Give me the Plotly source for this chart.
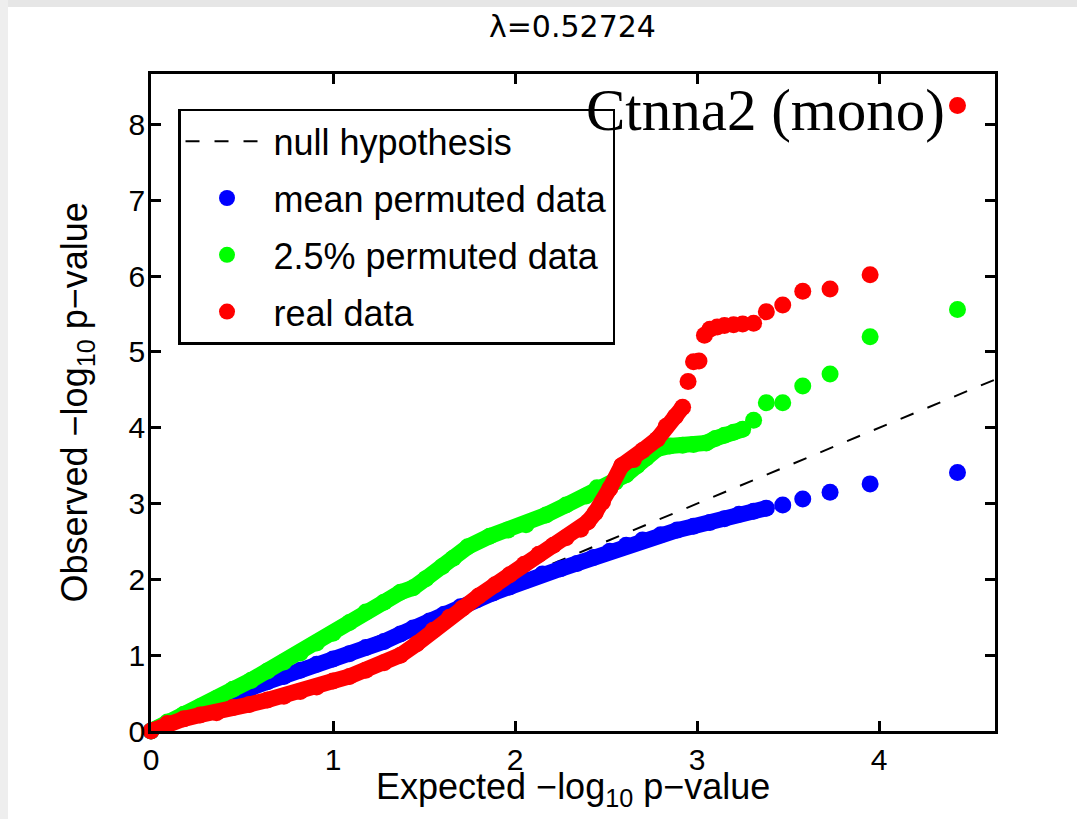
import plotly.graph_objects as go

# ---------------- data ----------------
x_ticks = [0, 1, 2, 3, 4]
y_ticks = [0, 1, 2, 3, 4, 5, 6, 7, 8]

null_x = [0.0, 4.7]
null_y = [0.0, 4.7]

# dense part of each QQ curve (centre line of the band of points)
blue_band_x = [0.00, 0.09, 0.18, 0.27, 0.36, 0.45, 0.55, 0.64, 0.73, 0.82, 0.91, 1.00,
               1.09, 1.18, 1.28, 1.37, 1.44, 1.53, 1.61, 1.70, 1.79, 1.88, 1.97, 2.06,
               2.15, 2.25, 2.34, 2.43, 2.52, 2.61, 2.70, 2.80, 2.89, 2.98, 3.07, 3.15,
               3.23, 3.31, 3.38]
blue_band_y = [0.00, 0.10, 0.20, 0.30, 0.39, 0.47, 0.57, 0.65, 0.72, 0.80, 0.88, 0.95,
               1.02, 1.10, 1.18, 1.28, 1.36, 1.45, 1.54, 1.64, 1.73, 1.82, 1.90, 1.99,
               2.07, 2.14, 2.21, 2.29, 2.37, 2.45, 2.52, 2.59, 2.65, 2.70, 2.75, 2.80,
               2.86, 2.90, 2.94]
blue_tail_x = [3.47, 3.58, 3.73, 3.95, 4.43]
blue_tail_y = [2.98, 3.06, 3.15, 3.26, 3.41]

green_band_x = [0.00, 0.09, 0.18, 0.27, 0.36, 0.45, 0.55, 0.64, 0.73, 0.82, 0.91, 1.00,
                1.09, 1.18, 1.28, 1.37, 1.44, 1.51, 1.60, 1.66, 1.74, 1.86, 1.96, 2.06,
                2.17, 2.28, 2.39, 2.45, 2.55, 2.61, 2.67, 2.72, 2.78, 2.85, 2.92, 2.98,
                3.05, 3.10, 3.15, 3.20, 3.25]
green_band_y = [0.00, 0.12, 0.22, 0.32, 0.43, 0.55, 0.67, 0.79, 0.91, 1.03, 1.16, 1.29,
                1.43, 1.57, 1.70, 1.83, 1.89, 2.01, 2.17, 2.28, 2.43, 2.57, 2.65, 2.72,
                2.85, 2.98, 3.10, 3.21, 3.28, 3.38, 3.50, 3.60, 3.72, 3.76, 3.77, 3.78,
                3.80, 3.86, 3.90, 3.94, 3.98]
green_tail_x = [3.31, 3.38, 3.47, 3.58, 3.73, 3.95, 4.43]
green_tail_y = [4.10, 4.33, 4.33, 4.55, 4.71, 5.20, 5.56]

red_band_x = [0.00, 0.09, 0.18, 0.27, 0.36, 0.45, 0.54, 0.64, 0.73, 0.82, 0.91, 1.00,
              1.09, 1.18, 1.28, 1.37, 1.46, 1.55, 1.64, 1.71, 1.80, 1.89, 1.97, 2.05,
              2.13, 2.21, 2.28, 2.36, 2.40, 2.44, 2.48, 2.52, 2.585, 2.65, 2.70, 2.78,
              2.83, 2.88, 2.92]
red_band_y = [0.00, 0.10, 0.16, 0.21, 0.24, 0.31, 0.35, 0.41, 0.46, 0.52, 0.58, 0.66,
              0.72, 0.80, 0.90, 1.00, 1.15, 1.33, 1.50, 1.62, 1.78, 1.93, 2.06, 2.20,
              2.33, 2.45, 2.55, 2.66, 2.76, 2.88, 3.02, 3.20, 3.50, 3.58, 3.70, 3.85,
              4.02, 4.15, 4.27]
red_tail_x = [2.95, 2.98, 3.01, 3.04, 3.07, 3.11, 3.15, 3.20, 3.25, 3.31, 3.38, 3.47,
              3.58, 3.73, 3.95, 4.43]
red_tail_y = [4.61, 4.87, 4.88, 5.22, 5.30, 5.33, 5.35, 5.36, 5.37, 5.38, 5.53, 5.62,
              5.80, 5.83, 6.02, 8.25]

series_names = ["mean permuted data", "2.5% permuted data", "real data"]
series_colors = ["#0000ff", "#00ff00", "#ff0000"]

gene_label = "Ctnna2 (mono)"
title_text = "λ=0.52724"

# ---------------- figure ----------------
SANS = "Liberation Sans, Arial, sans-serif"
fig = go.Figure()

fig.add_trace(go.Scatter(
    x=null_x, y=null_y, mode="lines", name="null hypothesis", legendgroup="g0",
    line=dict(color="black", width=2, dash="14px,15px"), hoverinfo="skip"))

bands = [(blue_band_x, blue_band_y, blue_tail_x, blue_tail_y),
         (green_band_x, green_band_y, green_tail_x, green_tail_y),
         (red_band_x, red_band_y, red_tail_x, red_tail_y)]

for i, ((bx, by, tx, ty), name, col) in enumerate(zip(bands, series_names, series_colors)):
    grp = "g%d" % (i + 1)
    fig.add_trace(go.Scatter(
        x=bx, y=by, mode="lines+markers", showlegend=False, cliponaxis=False,
        legendgroup=grp,
        line=dict(color=col, width=16), marker=dict(color=col, size=17),
        hoverinfo="skip"))
    fig.add_trace(go.Scatter(
        x=tx, y=ty, mode="markers", name=name, cliponaxis=False, legendgroup=grp,
        marker=dict(color=col, size=17)))

axis_common = dict(
    showline=True, linecolor="black", linewidth=2.5, mirror="ticks",
    ticks="inside", ticklen=10, tickwidth=2.5, tickcolor="black",
    showgrid=False, zeroline=False,
    tickfont=dict(family=SANS, size=30, color="black"))

fig.update_xaxes(range=[0, 4.636], tickvals=x_ticks, ticklabelstandoff=0, **axis_common)
fig.update_yaxes(range=[0, 8.667], tickvals=y_ticks, ticklabelstandoff=-3, **axis_common)

fig.update_layout(
    width=1077, height=819,
    margin=dict(l=151, r=82, t=74, b=88),
    paper_bgcolor="white", plot_bgcolor="white",
    title=dict(text=title_text, x=0.5315, xanchor="center", y=0.9676, yanchor="middle",
               font=dict(family="DejaVu Sans", size=30, color="black")),
    legend=dict(x=0.032, y=0.947, xanchor="left", yanchor="top",
                bgcolor="white", bordercolor="black", borderwidth=2.5,
                font=dict(family=SANS, size=36, color="black"),
                itemwidth=83, traceorder="grouped", tracegroupgap=7),
    showlegend=True,
    annotations=[
        dict(text="Expected −log<sub>10</sub> p−value", xref="paper", yref="paper",
             x=0.5, y=-0.05, xanchor="center", yanchor="top", showarrow=False,
             font=dict(family=SANS, size=36, color="black")),
        dict(text="Observed −log<sub>10</sub> p−value", xref="paper", yref="paper",
             x=-0.0877, y=0.5, xanchor="center", yanchor="middle", textangle=-90,
             showarrow=False, font=dict(family=SANS, size=36, color="black")),
        dict(text=gene_label, x=red_tail_x[-1], y=red_tail_y[-1], xref="x", yref="y",
             xanchor="right", yanchor="middle", xshift=-11, yshift=-4, showarrow=False,
             font=dict(family="Liberation Serif, Times New Roman, serif", size=59,
                       color="black")),
    ],
    shapes=[
        dict(type="rect", xref="paper", yref="paper", x0=-0.1789, x1=1.0972,
             y0=1.102, y1=1.1127, fillcolor="#e6e6e6", line=dict(width=0), layer="below"),
        dict(type="rect", xref="paper", yref="paper", x0=-0.1789, x1=-0.1694,
             y0=-0.134, y1=1.1127, fillcolor="#eeeeee", line=dict(width=0), layer="below"),
    ],
)

fig.write_html(
    "out.html",
    config={"displayModeBar": False},
    post_script="document.body.style.margin='0px';document.body.style.overflow='hidden';")
